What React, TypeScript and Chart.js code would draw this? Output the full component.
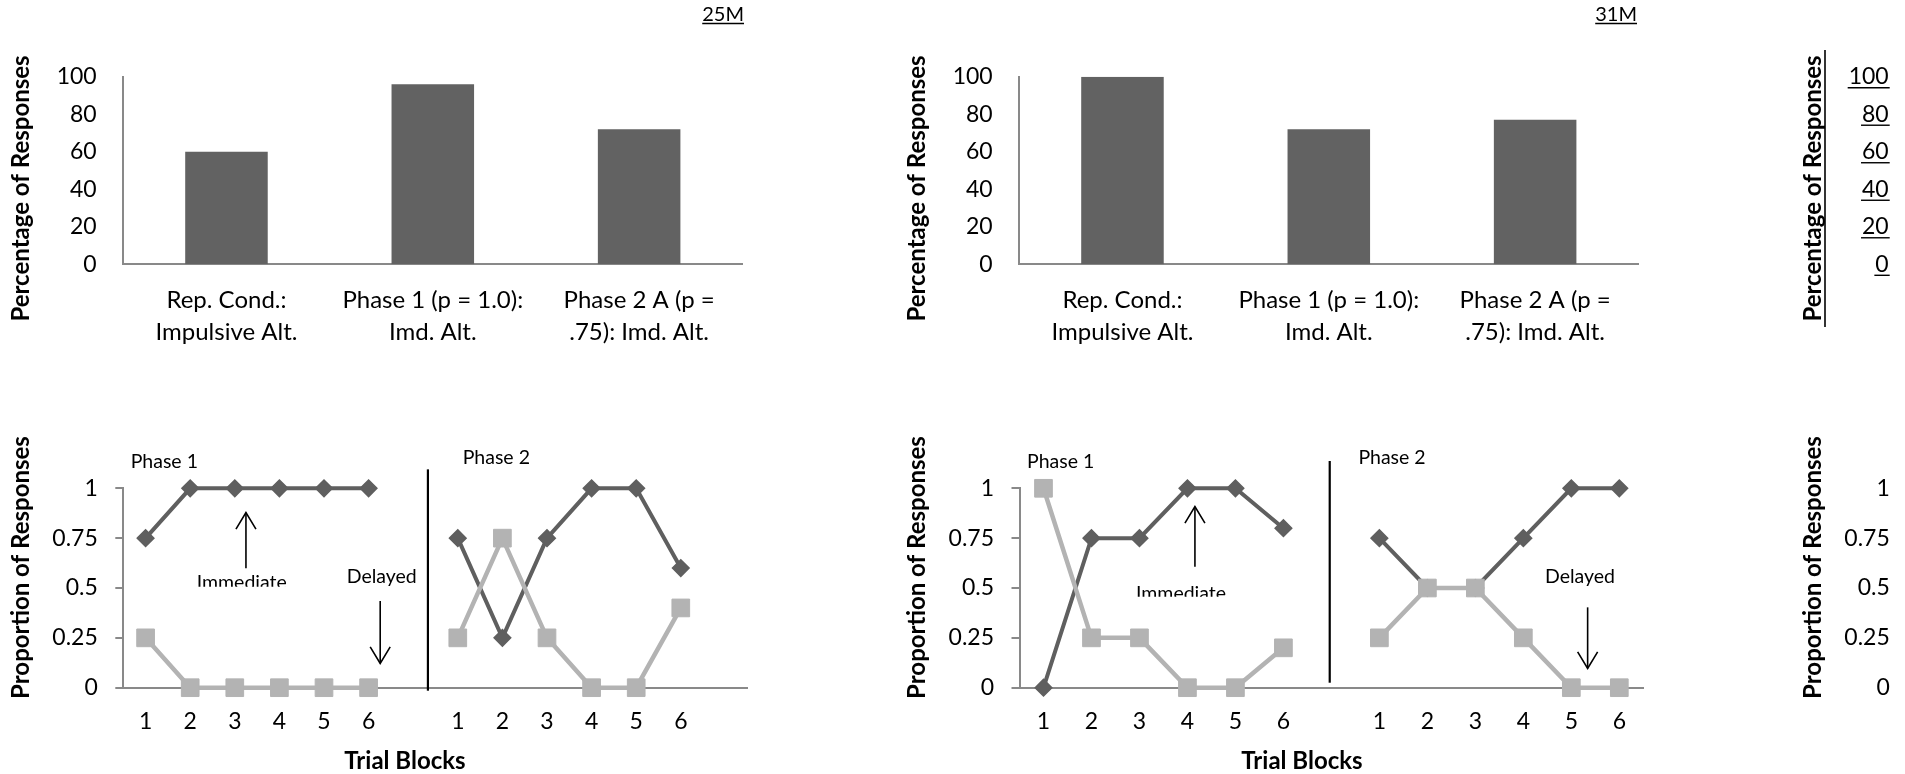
import React, { useEffect, useRef } from 'react';
import { Chart, registerables } from 'chart.js';

Chart.register(...registerables);

// ---------------- data ----------------
const barCategories = [
  ['Rep. Cond.:', 'Impulsive Alt.'],
  ['Phase 1 (p = 1.0):', 'Imd. Alt.'],
  ['Phase 2 A (p =', '.75): Imd. Alt.'],
];
const percent25M = [60, 96, 72];
const percent31M = [100, 72, 77];
const percentTicks = [0, 20, 40, 60, 80, 100];

const blocks25M = ['1', '2', '3', '4', '5', '6', '', '1', '2', '3', '4', '5', '6', ''];
const blocks31M = ['1', '2', '3', '4', '5', '6', '', '1', '2', '3', '4', '5', '6'];
const immediate25M = [0.75, 1, 1, 1, 1, 1, null, 0.75, 0.25, 0.75, 1, 1, 0.6, null];
const delayed25M = [0.25, 0, 0, 0, 0, 0, null, 0.25, 0.75, 0.25, 0, 0, 0.4, null];
const immediate31M = [0, 0.75, 0.75, 1, 1, 0.8, null, 0.75, 0.5, 0.5, 0.75, 1, 1];
const delayed31M = [1, 0.25, 0.25, 0, 0, 0.2, null, 0.25, 0.5, 0.5, 0.25, 0, 0];
const proportionTicks = [0, 0.25, 0.5, 0.75, 1];
const subjects = ['25M', '31M'];

// ---------------- styles ----------------
const FONT = "Lato, 'Open Sans', 'DejaVu Sans', sans-serif";
const BAR = '#626262';
const DARK = '#5f5f5f';
const LIGHT = '#b3b3b3';
const AXIS = '#898989';
const COL = 896;

type Frame = { left: number; top: number; width: number; height: number };
type Area = { left: number; right: number; top: number; bottom: number };
type TextItem = {
  text: string; x: number; y: number; font: string;
  align?: CanvasTextAlign; rot?: number; underline?: boolean; clipBottom?: number;
};
type Seg = { x: number; y1: number; y2: number };
type Arrow = { x: number; from: number; to: number };
type PageLine = { x1: number; y1: number; x2: number; y2: number; w: number };

function annot(frame: Frame, texts: TextItem[], segs: Seg[], arrows: Arrow[], pageLines: PageLine[], underlineTicks?: { pad: number; off: number; font: string }) {
  return {
    id: 'annot',
    afterDraw(chart: any) {
      const ctx: CanvasRenderingContext2D = chart.ctx;
      ctx.save();
      ctx.translate(-frame.left, -frame.top);
      ctx.strokeStyle = '#000';
      ctx.fillStyle = '#000';
      for (const l of pageLines) {
        ctx.lineWidth = l.w;
        ctx.beginPath();
        ctx.moveTo(l.x1, l.y1);
        ctx.lineTo(l.x2, l.y2);
        ctx.stroke();
      }
      for (const t of texts) {
        ctx.save();
        if (t.clipBottom !== undefined) {
          ctx.beginPath();
          ctx.rect(-5000, -5000, 20000, t.clipBottom + 5000);
          ctx.clip();
        }
        ctx.font = t.font;
        ctx.textAlign = t.align || 'left';
        ctx.textBaseline = 'alphabetic';
        ctx.translate(t.x, t.y);
        if (t.rot) ctx.rotate(t.rot);
        ctx.fillText(t.text, 0, 0);
        if (t.underline) {
          const w = ctx.measureText(t.text).width;
          const x0 = t.align === 'right' ? -w : t.align === 'center' ? -w / 2 : 0;
          ctx.lineWidth = 1.4;
          ctx.beginPath();
          ctx.moveTo(x0, 2.3);
          ctx.lineTo(x0 + w, 2.3);
          ctx.stroke();
        }
        ctx.restore();
      }
      ctx.restore();

      const xs = chart.scales.x;
      const ys = chart.scales.y;
      ctx.save();
      ctx.strokeStyle = '#000';
      for (const s of segs) {
        ctx.lineWidth = 2.2;
        ctx.beginPath();
        const px = xs.getPixelForValue(s.x);
        ctx.moveTo(px, ys.getPixelForValue(s.y1));
        ctx.lineTo(px, ys.getPixelForValue(s.y2));
        ctx.stroke();
      }
      for (const a of arrows) {
        const px = xs.getPixelForValue(a.x);
        const p1 = ys.getPixelForValue(a.from);
        const p2 = ys.getPixelForValue(a.to);
        const dir = Math.sign(p2 - p1);
        ctx.lineWidth = 1.6;
        ctx.beginPath();
        ctx.moveTo(px, p1);
        ctx.lineTo(px, p2);
        ctx.stroke();
        ctx.beginPath();
        ctx.moveTo(px - 10, p2 - dir * 16.5);
        ctx.lineTo(px, p2);
        ctx.lineTo(px + 10, p2 - dir * 16.5);
        ctx.stroke();
      }
      if (underlineTicks) {
        ctx.font = underlineTicks.font;
        ctx.lineWidth = 1.4;
        const right = chart.chartArea.left - underlineTicks.pad;
        for (const tk of ys.ticks) {
          const y = ys.getPixelForValue(tk.value) + underlineTicks.off;
          const w = ctx.measureText(String(tk.value)).width;
          ctx.beginPath();
          ctx.moveTo(right - w - 1, y);
          ctx.lineTo(right + 1, y);
          ctx.stroke();
        }
      }
      ctx.restore();
    },
  };
}

const TICK_FONT = { family: FONT, size: 23 };
const TICK_FONT_STR = `23px ${FONT}`;
const TITLE_FONT = `bold 24px ${FONT}`;
const NOTE_FONT = `19.5px ${FONT}`;

function barConfig(frame: Frame, area: Area, values: number[], plugin: any) {
  const XH = 100;
  return {
    type: 'bar',
    data: {
      labels: barCategories,
      datasets: values.length
        ? [{ label: 'Percentage', data: values, backgroundColor: BAR, borderWidth: 0, barPercentage: 0.4, categoryPercentage: 1 }]
        : [],
    },
    options: {
      responsive: false,
      animation: false,
      devicePixelRatio: 1,
      events: [],
      layout: {
        padding: {
          left: 0,
          top: area.top - frame.top,
          right: frame.left + frame.width - area.right,
          bottom: frame.top + frame.height - area.bottom - XH,
        },
      },
      plugins: { legend: { display: false }, tooltip: { enabled: false } },
      scales: {
        x: {
          grid: { display: false, drawTicks: false },
          border: { display: true, color: AXIS, width: 2 },
          ticks: { color: '#000', font: { family: FONT, size: 24, lineHeight: 1.32 }, padding: 20, autoSkip: false, maxRotation: 0, minRotation: 0 },
          afterFit: (s: any) => { s.height = XH; },
        },
        y: {
          min: 0,
          max: 100,
          grid: { display: false, drawTicks: false },
          border: { display: true, color: AXIS, width: 2 },
          ticks: { color: '#000', font: TICK_FONT, padding: 26.6, callback: (v: any) => String(v) },
          afterBuildTicks: (s: any) => { s.ticks = percentTicks.map((v) => ({ value: v })); },
          afterFit: (s: any) => { s.width = area.left - frame.left; },
        },
      },
    },
    plugins: [plugin],
  };
}

function lineConfig(frame: Frame, area: Area, labels: string[], immediate: (number | null)[], delayed: (number | null)[], plugin: any) {
  const XH = 60;
  const ds = [];
  if (immediate.length) {
    ds.push({
      label: 'Immediate', data: immediate, borderColor: DARK, backgroundColor: DARK,
      pointBackgroundColor: DARK, pointBorderColor: DARK, pointBorderWidth: 1.5,
      pointStyle: 'rectRot', pointRadius: 8.3, borderWidth: 4, tension: 0, spanGaps: false, clip: false, order: 1,
    });
    ds.push({
      label: 'Delayed', data: delayed, borderColor: LIGHT, backgroundColor: LIGHT,
      pointBackgroundColor: LIGHT, pointBorderColor: LIGHT, pointBorderWidth: 1,
      pointStyle: 'rect', pointRadius: 12.5, borderWidth: 4.5, tension: 0, spanGaps: false, clip: false, order: 0,
    });
  }
  return {
    type: 'line',
    data: { labels, datasets: ds },
    options: {
      responsive: false,
      animation: false,
      devicePixelRatio: 1,
      events: [],
      layout: {
        padding: {
          left: 0,
          top: area.top - frame.top,
          right: frame.left + frame.width - area.right,
          bottom: frame.top + frame.height - area.bottom - XH,
        },
      },
      plugins: { legend: { display: false }, tooltip: { enabled: false } },
      scales: {
        x: {
          offset: true,
          grid: { display: false, drawTicks: false },
          border: { display: true, color: AXIS, width: 2 },
          ticks: { color: '#000', font: TICK_FONT, padding: 20, autoSkip: false, maxRotation: 0, minRotation: 0 },
          afterFit: (s: any) => { s.height = XH; },
        },
        y: {
          min: 0,
          max: 1,
          grid: { display: true, drawOnChartArea: false, drawTicks: true, tickLength: 8, color: AXIS, lineWidth: 2 },
          border: { display: true, color: AXIS, width: 2 },
          ticks: { color: '#000', font: TICK_FONT, padding: 17.5, callback: (v: any) => String(v) },
          afterBuildTicks: (s: any) => { s.ticks = proportionTicks.map((v) => ({ value: v })); },
          afterFit: (s: any) => { s.width = area.left - frame.left; },
        },
      },
    },
    plugins: [plugin],
  };
}

function ChartBox({ frame, make }: { frame: Frame; make: () => any }) {
  const ref = useRef<HTMLCanvasElement>(null);
  useEffect(() => {
    const chart = new Chart(ref.current as HTMLCanvasElement, make());
    return () => chart.destroy();
  }, []);
  return (
    <canvas
      ref={ref}
      width={frame.width}
      height={frame.height}
      style={{ position: 'absolute', left: frame.left, top: frame.top, width: frame.width, height: frame.height }}
    />
  );
}

const R90 = -Math.PI / 2;

function topFrame(c: number): Frame { return { left: c * COL, top: 0, width: 790, height: 400 }; }
function topArea(c: number): Area { return { left: 123.3 + c * COL, right: 742.3 + c * COL, top: 76.7, bottom: 264.3 }; }
function botFrame(c: number): Frame { return { left: c * COL, top: 400, width: 800, height: 374 }; }

export default function App() {
  const tf = [topFrame(0), topFrame(1), topFrame(2)];
  const ta = [topArea(0), topArea(1), topArea(2)];
  const bf = [botFrame(0), botFrame(1), botFrame(2)];
  const ba: Area[] = [
    { left: 123.3, right: 747.7, top: 488.3, bottom: 687.7 },
    { left: 1019.5, right: 1643.3, top: 488.3, bottom: 687.7 },
    { left: 1915.3, right: 2539.7, top: 488.3, bottom: 687.7 },
  ];

  const pctTitle = 'Percentage of Responses';
  const propTitle = 'Proportion of Responses';

  const makeT1 = () => barConfig(tf[0], ta[0], percent25M, annot(tf[0], [
    { text: pctTitle, x: 28.5, y: 188.5, font: TITLE_FONT, align: 'center', rot: R90 },
    { text: subjects[0], x: 744, y: 21.2, font: `20px ${FONT}`, align: 'right', underline: true },
  ], [], [], []));
  const makeT2 = () => barConfig(tf[1], ta[1], percent31M, annot(tf[1], [
    { text: pctTitle, x: 28.5 + COL, y: 188.5, font: TITLE_FONT, align: 'center', rot: R90 },
    { text: subjects[1], x: 1637, y: 21.2, font: `20px ${FONT}`, align: 'right', underline: true },
  ], [], [], []));
  const makeT3 = () => barConfig(tf[2], ta[2], [], annot(tf[2], [
    { text: pctTitle, x: 28.5 + 2 * COL, y: 188.5, font: TITLE_FONT, align: 'center', rot: R90 },
  ], [], [], [{ x1: 1825, y1: 50, x2: 1825, y2: 327, w: 1.6 }], { pad: 26.6, off: 11, font: TICK_FONT_STR }));

  const makeB1 = () => lineConfig(bf[0], ba[0], blocks25M, immediate25M, delayed25M, annot(bf[0], [
    { text: propTitle, x: 28.5, y: 567.5, font: TITLE_FONT, align: 'center', rot: R90 },
    { text: 'Trial Blocks', x: 405, y: 768.5, font: TITLE_FONT, align: 'center' },
    { text: 'Phase 1', x: 130.7, y: 468.3, font: NOTE_FONT },
    { text: 'Phase 2', x: 462.7, y: 464.3, font: NOTE_FONT },
    { text: 'Immediate', x: 196.7, y: 589, font: NOTE_FONT, clipBottom: 586.7 },
    { text: 'Delayed', x: 346.7, y: 583.3, font: NOTE_FONT },
  ], [{ x: 6.33, y1: 1.095, y2: -0.015 }], [
    { x: 2.25, from: 0.599, to: 0.878 },
    { x: 5.26, from: 0.435, to: 0.122 },
  ], []));
  const makeB2 = () => lineConfig(bf[1], ba[1], blocks31M, immediate31M, delayed31M, annot(bf[1], [
    { text: propTitle, x: 28.5 + COL, y: 567.5, font: TITLE_FONT, align: 'center', rot: R90 },
    { text: 'Trial Blocks', x: 1302, y: 768.5, font: TITLE_FONT, align: 'center' },
    { text: 'Phase 1', x: 1027, y: 468.3, font: NOTE_FONT },
    { text: 'Phase 2', x: 1358.4, y: 464.3, font: NOTE_FONT },
    { text: 'Immediate', x: 1136, y: 600, font: NOTE_FONT, clipBottom: 596.7 },
    { text: 'Delayed', x: 1545, y: 583.3, font: NOTE_FONT },
  ], [{ x: 5.965, y1: 1.137, y2: 0.025 }], [
    { x: 3.156, from: 0.607, to: 0.908 },
    { x: 11.34, from: 0.403, to: 0.097 },
  ], []));
  const makeB3 = () => lineConfig(bf[2], ba[2], blocks31M, [], [], annot(bf[2], [
    { text: propTitle, x: 28.5 + 2 * COL, y: 567.5, font: TITLE_FONT, align: 'center', rot: R90 },
  ], [], [], []));

  return (
    <div style={{ position: 'absolute', left: 0, top: 0, width: 1905, height: 774, overflow: 'hidden', background: '#fff' }}>
      <ChartBox frame={tf[0]} make={makeT1} />
      <ChartBox frame={tf[1]} make={makeT2} />
      <ChartBox frame={tf[2]} make={makeT3} />
      <ChartBox frame={bf[0]} make={makeB1} />
      <ChartBox frame={bf[1]} make={makeB2} />
      <ChartBox frame={bf[2]} make={makeB3} />
    </div>
  );
}
